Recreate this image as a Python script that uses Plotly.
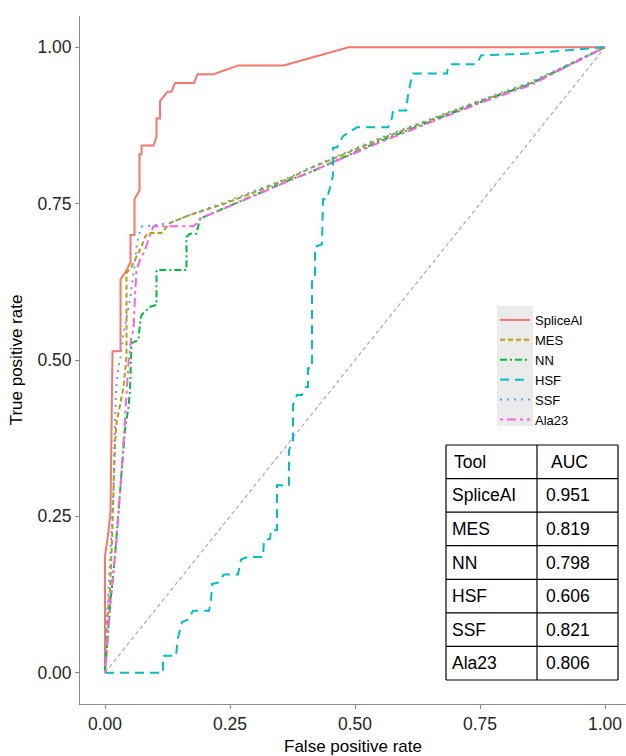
import plotly.graph_objects as go

# ---------------- data ----------------
tools = ["SpliceAI", "MES", "NN", "HSF", "SSF", "Ala23"]
auc = ["0.951", "0.819", "0.798", "0.606", "0.821", "0.806"]

spliceai_fpr = [0, 0, 0.007, 0.011, 0.015, 0.031, 0.031, 0.043, 0.051, 0.051, 0.059, 0.059,
                0.069, 0.069, 0.073, 0.073, 0.097, 0.103, 0.103, 0.110, 0.110, 0.125, 0.133,
                0.140, 0.178, 0.185, 0.217, 0.267, 0.357, 0.487, 1.0]
spliceai_tpr = [0, 0.186, 0.226, 0.257, 0.514, 0.514, 0.629, 0.643, 0.657, 0.700, 0.700, 0.757,
                0.771, 0.829, 0.829, 0.843, 0.843, 0.857, 0.886, 0.886, 0.914, 0.929, 0.929,
                0.943, 0.943, 0.957, 0.957, 0.971, 0.971, 1.0, 1.0]

mes_fpr = [0, 0.002, 0.006, 0.010, 0.014, 0.017, 0.020, 0.023, 0.030, 0.037, 0.043, 0.043,
           0.053, 0.073, 0.080, 0.087, 0.113, 0.123, 0.130, 0.170, 0.236, 0.304, 0.370,
           0.406, 0.550, 0.750, 0.850, 1.0]
mes_tpr = [0, 0.053, 0.100, 0.133, 0.212, 0.292, 0.367, 0.399, 0.431, 0.457, 0.505, 0.639,
           0.649, 0.681, 0.697, 0.703, 0.703, 0.712, 0.719, 0.732, 0.749, 0.770, 0.791,
           0.805, 0.853, 0.914, 0.942, 1.0]

nn_fpr = [0, 0.007, 0.010, 0.020, 0.027, 0.033, 0.040, 0.047, 0.050, 0.051, 0.053, 0.067,
          0.070, 0.073, 0.090, 0.103, 0.103, 0.163, 0.163, 0.170, 0.183, 0.190, 0.237,
          0.303, 0.370, 0.407, 0.550, 0.750, 0.850, 1.0]
nn_tpr = [0, 0.080, 0.106, 0.186, 0.266, 0.319, 0.388, 0.425, 0.452, 0.495, 0.527, 0.532,
          0.559, 0.572, 0.585, 0.588, 0.644, 0.644, 0.697, 0.702, 0.702, 0.726, 0.742,
          0.764, 0.788, 0.799, 0.850, 0.912, 0.941, 1.0]

hsf_fpr = [0, 0.116, 0.116, 0.142, 0.146, 0.154, 0.166, 0.176, 0.208, 0.212, 0.214, 0.226,
           0.238, 0.266, 0.272, 0.284, 0.316, 0.318, 0.330, 0.332, 0.344, 0.344, 0.368,
           0.368, 0.376, 0.376, 0.384, 0.394, 0.402, 0.406, 0.406, 0.414, 0.414, 0.420,
           0.420, 0.434, 0.436, 0.444, 0.456, 0.456, 0.464, 0.476, 0.504, 0.566, 0.574,
           0.576, 0.602, 0.606, 0.612, 0.616, 0.684, 0.686, 0.694, 0.744, 0.752, 0.850,
           0.910, 0.970, 1.0]
hsf_tpr = [0, 0, 0.027, 0.027, 0.056, 0.081, 0.085, 0.099, 0.099, 0.115, 0.142, 0.144,
           0.157, 0.157, 0.181, 0.185, 0.185, 0.212, 0.214, 0.228, 0.228, 0.300, 0.299,
           0.356, 0.372, 0.428, 0.444, 0.444, 0.457, 0.457, 0.487, 0.487, 0.626, 0.629,
           0.681, 0.685, 0.757, 0.757, 0.795, 0.839, 0.840, 0.858, 0.872, 0.872, 0.887,
           0.899, 0.899, 0.923, 0.947, 0.958, 0.958, 0.970, 0.973, 0.973, 0.987, 0.990,
           0.994, 0.998, 1.0]

ssf_fpr = [0, 0.003, 0.007, 0.010, 0.013, 0.017, 0.018, 0.020, 0.022, 0.027, 0.031, 0.037,
           0.043, 0.050, 0.055, 0.059, 0.063, 0.067, 0.073, 0.103, 0.130, 0.170, 0.236,
           0.304, 0.370, 0.406, 0.550, 0.750, 0.850, 1.0]
ssf_tpr = [0, 0.079, 0.133, 0.186, 0.239, 0.292, 0.346, 0.399, 0.452, 0.489, 0.505, 0.543,
           0.569, 0.596, 0.628, 0.649, 0.681, 0.697, 0.713, 0.716, 0.719, 0.732, 0.751,
           0.772, 0.792, 0.806, 0.855, 0.915, 0.944, 1.0]

ala23_fpr = [0, 0.003, 0.010, 0.023, 0.033, 0.040, 0.047, 0.053, 0.057, 0.060, 0.063, 0.070,
             0.080, 0.090, 0.097, 0.177, 0.183, 0.190, 0.237, 0.303, 0.370, 0.407, 0.550,
             0.750, 0.850, 1.0]
ala23_tpr = [0, 0.026, 0.106, 0.212, 0.319, 0.399, 0.495, 0.537, 0.548, 0.601, 0.644, 0.660,
             0.676, 0.700, 0.714, 0.714, 0.718, 0.726, 0.742, 0.764, 0.786, 0.799, 0.848,
             0.911, 0.939, 1.0]

chance_x = [0, 1]
chance_y = [0, 1]

x_ticks = [0, 0.25, 0.5, 0.75, 1.0]
x_ticklabels = ["0.00", "0.25", "0.50", "0.75", "1.00"]
y_ticks = [0, 0.25, 0.5, 0.75, 1.0]
y_ticklabels = ["0.00", "0.25", "0.50", "0.75", "1.00"]

# ---------------- styles ----------------
series = [
    ("SpliceAI", spliceai_fpr, spliceai_tpr, "#F8766D", "solid"),
    ("MES", mes_fpr, mes_tpr, "#B79F00", "5px,3px"),
    ("NN", nn_fpr, nn_tpr, "#00BA38", "7px,3px,2px,3px"),
    ("HSF", hsf_fpr, hsf_tpr, "#00BFC4", "9px,6px"),
    ("SSF", ssf_fpr, ssf_tpr, "#619CFF", "2px,5px"),
    ("Ala23", ala23_fpr, ala23_tpr, "#F564E3", "3px,4px,9px,4px"),
]

FONT = "Liberation Sans, Arial, Helvetica, sans-serif"
W, H = 626, 756
ML, MR, MT, MB = 80, 0, 16, 52
PW, PH = W - ML - MR, H - MT - MB


def px_x(px):
    return (px - ML) / PW


def px_y(py):
    return (H - MB - py) / PH


fig = go.Figure()

fig.add_trace(go.Scatter(x=chance_x, y=chance_y, mode="lines", showlegend=False,
                         hoverinfo="skip",
                         line=dict(color="#ababab", width=1.2, dash="4px,3px")))

for name, fx, ty, color, dash in series:
    fig.add_trace(go.Scatter(x=fx, y=ty, mode="lines", name=name,
                             line=dict(color=color, width=2, dash=dash)))

shapes = []
annotations = []

# legend key background
shapes.append(dict(type="rect", xref="paper", yref="paper", layer="below",
                   x0=px_x(497), x1=px_x(533), y0=px_y(426), y1=px_y(306),
                   fillcolor="#EBEBEB", line=dict(width=0)))

# table (Tool / AUC)
tab_left, tab_mid, tab_right = 446, 537, 618
tab_top, tab_bottom = 445, 680
n_rows = len(tools) + 1
row_h = (tab_bottom - tab_top) / n_rows
line_style = dict(color="black", width=1.2)
for i in range(n_rows + 1):
    yy = px_y(tab_top + i * row_h)
    shapes.append(dict(type="line", xref="paper", yref="paper",
                       x0=px_x(tab_left), x1=px_x(tab_right), y0=yy, y1=yy,
                       line=line_style))
for xx in (tab_left, tab_mid, tab_right):
    shapes.append(dict(type="line", xref="paper", yref="paper",
                       x0=px_x(xx), x1=px_x(xx), y0=px_y(tab_top), y1=px_y(tab_bottom),
                       line=line_style))

header = [("Tool", 452), ("AUC", 549)]
tfont = dict(family=FONT, size=17.5, color="black")
for text, xx in header:
    annotations.append(dict(text=text, xref="paper", yref="paper", x=px_x(xx),
                            y=px_y(tab_top + 0.5 * row_h), xanchor="left",
                            yanchor="middle", showarrow=False, font=tfont))
for i, (t, a) in enumerate(zip(tools, auc)):
    yc = px_y(tab_top + (i + 1.5) * row_h)
    annotations.append(dict(text=t, xref="paper", yref="paper", x=px_x(450), y=yc,
                            xanchor="left", yanchor="middle", showarrow=False, font=tfont))
    annotations.append(dict(text=a, xref="paper", yref="paper", x=px_x(544), y=yc,
                            xanchor="left", yanchor="middle", showarrow=False, font=tfont))

axis_common = dict(showgrid=False, zeroline=False, showline=True, linecolor="#8c8c8c",
                   linewidth=1, ticks="outside", ticklen=4, tickcolor="#8c8c8c",
                   tickwidth=1, automargin=False,
                   tickfont=dict(family=FONT, size=17.5, color="#262626"))

fig.update_layout(
    width=W, height=H,
    margin=dict(l=ML, r=MR, t=MT, b=MB, pad=0, autoexpand=False),
    paper_bgcolor="white", plot_bgcolor="white",
    font=dict(family=FONT, color="black"),
    xaxis=dict(range=[-0.05, 1.042], tickvals=x_ticks, ticktext=x_ticklabels,
               title=dict(text="False positive rate", standoff=10,
                          font=dict(family=FONT, size=17, color="black")),
               **axis_common),
    yaxis=dict(range=[-0.05, 1.05], tickvals=y_ticks, ticktext=y_ticklabels,
               title=dict(text="True positive rate", standoff=10,
                          font=dict(family=FONT, size=17, color="black")),
               **axis_common),
    legend=dict(x=px_x(495), y=px_y(305), xanchor="left", yanchor="top",
                bgcolor="rgba(0,0,0,0)", borderwidth=0, itemwidth=30,
                font=dict(family=FONT, size=13, color="black"),
                tracegroupgap=0),
    shapes=shapes,
    annotations=annotations,
)

# remove the browser's default 8px page margin so the figure sits at the window origin
fig.write_html("out.html",
               config={"displayModeBar": False},
               post_script="document.body.style.margin='0';document.body.style.overflow='hidden';")
